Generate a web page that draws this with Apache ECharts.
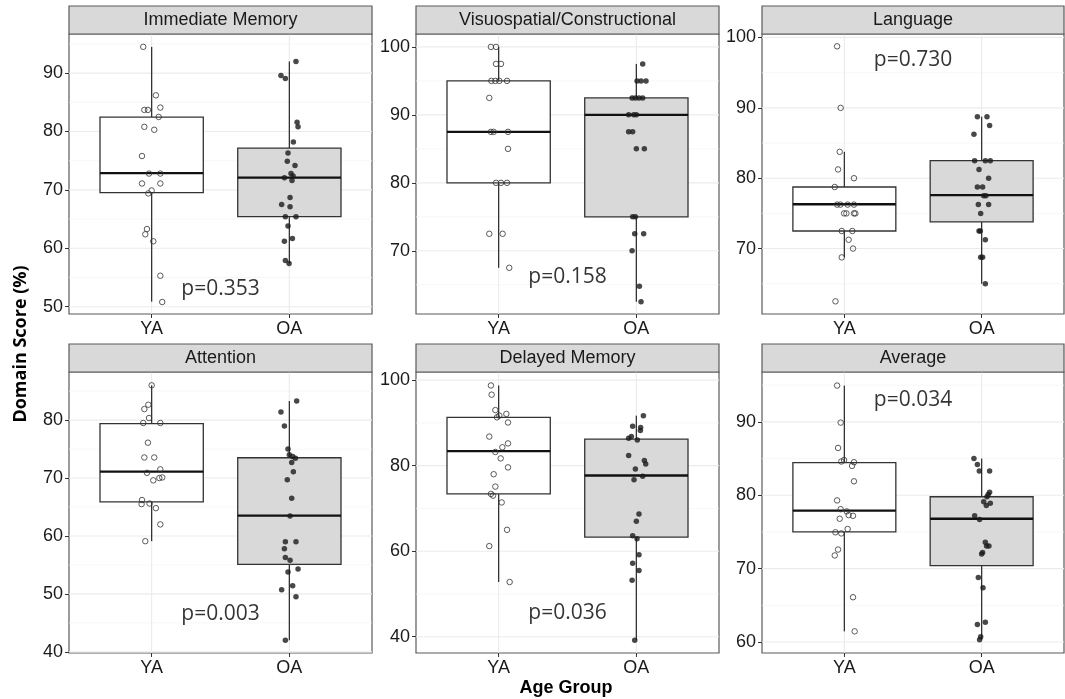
<!DOCTYPE html>
<html>
<head>
<meta charset="utf-8">
<script src="https://cdn.jsdelivr.net/npm/echarts@6/dist/echarts.min.js"></script>
<style>html,body{margin:0;padding:0;background:#fff;}#chart{width:1065px;height:699px;}</style>
</head>
<body>
<div id="chart"></div>
<script>
// ---------------- DATA ----------------
const groups = ['YA', 'OA'];
const domains = ['Immediate Memory', 'Visuospatial/Constructional', 'Language', 'Attention', 'Delayed Memory', 'Average'];
const pLabels = ['p=0.353', 'p=0.158', 'p=0.730', 'p=0.003', 'p=0.036', 'p=0.034'];
const pLabelScore = [53.0, 66.2, 96.8, 46.6, 45.5, 93.0];
const yAxisMin = [48.75, 60.7, 60.7, 39.8, 36.2, 58.5];
const yAxisMax = [96.7, 101.9, 100.5, 88.3, 101.9, 96.8];
const yTickLabels = [[50, 60, 70, 80, 90], [70, 80, 90, 100], [70, 80, 90, 100], [40, 50, 60, 70, 80], [40, 60, 80, 100], [60, 70, 80, 90]];

// box stats: [lower whisker, Q1, median, Q3, upper whisker]
const boxYA = [
  [50.86, 69.55, 72.86, 82.46, 94.5],
  [67.5, 80.0, 87.5, 95.0, 100.0],
  [68.75, 72.5, 76.3, 78.75, 83.75],
  [59.1, 65.9, 71.1, 79.4, 86.0],
  [52.8, 73.4, 83.4, 91.3, 98.75],
  [61.45, 75.0, 77.9, 84.45, 94.95]
];
const boxOA = [
  [57.4, 65.43, 72.1, 77.14, 92.0],
  [62.5, 75.0, 90.0, 92.5, 97.5],
  [65.0, 73.8, 77.6, 82.5, 88.75],
  [42.0, 55.1, 63.5, 73.5, 83.3],
  [39.2, 63.3, 77.7, 86.2, 91.7],
  [60.3, 70.4, 76.8, 79.8, 85.0]
];

// individual scores and their horizontal jitter (in group units)
const immediateYA = [94.5, 86.2, 83.7, 83.7, 84.1, 82.5, 80.8, 80.3, 75.8, 72.8, 72.8, 71.1, 71.1, 69.9, 69.4, 63.3, 62.4, 61.2, 55.3, 50.8];
const immediateYAJitter = [-0.061, 0.031, -0.053, -0.027, 0.063, 0.051, -0.053, 0.019, -0.070, -0.019, 0.063, -0.070, 0.063, 0.0, -0.024, -0.034, -0.046, 0.012, 0.063, 0.077];
const immediateOA = [92.0, 89.6, 89.1, 81.6, 80.8, 78.2, 76.3, 74.9, 74.2, 72.8, 72.4, 71.6, 72.1, 68.7, 67.5, 67.1, 65.4, 65.4, 63.8, 61.7, 61.2, 57.9, 57.4];
const immediateOAJitter = [0.048, -0.061, -0.029, 0.056, 0.063, 0.029, -0.010, -0.015, 0.041, 0.012, 0.027, 0.019, -0.036, 0.005, -0.056, 0.005, -0.029, 0.048, -0.010, 0.022, -0.036, -0.029, -0.002];

const visuoYA = [100, 100, 97.5, 97.5, 95, 95, 95, 95, 92.5, 87.5, 87.5, 87.5, 85, 80, 80, 80, 72.5, 72.5, 67.5];
const visuoYAJitter = [-0.056, -0.019, -0.019, 0.017, -0.053, -0.024, 0.005, 0.061, -0.068, -0.056, -0.036, 0.068, 0.068, -0.019, 0.017, 0.061, -0.068, 0.029, 0.077];
const visuoOA = [97.5, 95, 95, 95, 92.5, 92.5, 92.5, 92.5, 90, 90, 90, 87.5, 87.5, 85, 85, 75, 75, 72.5, 72.5, 70, 64.8, 62.5];
const visuoOAJitter = [0.046, 0.005, 0.034, 0.070, -0.031, -0.007, 0.019, 0.046, -0.056, -0.019, 0.0, -0.056, -0.027, 0.0, 0.058, -0.027, -0.007, -0.012, 0.053, -0.031, 0.022, 0.034];

const languageYA = [98.75, 90.0, 83.75, 81.25, 80.0, 78.75, 76.25, 76.25, 76.25, 76.25, 75, 75, 75, 75, 72.5, 72.5, 71.25, 70, 68.75, 62.5];
const languageYAJitter = [-0.053, -0.027, -0.034, -0.046, 0.070, -0.070, -0.053, -0.029, 0.024, 0.070, -0.002, 0.015, 0.070, 0.080, -0.019, 0.058, 0.031, 0.063, -0.019, -0.065];
const languageOA = [88.75, 88.75, 87.5, 86.25, 82.5, 82.5, 82.5, 81.25, 80, 78.75, 78.75, 77.5, 77.5, 76.25, 76.25, 75, 72.5, 72.5, 71.25, 68.75, 68.75, 65];
const languageOAJitter = [-0.031, 0.039, 0.058, -0.056, -0.051, 0.027, 0.063, -0.019, 0.051, -0.031, 0.007, 0.015, 0.031, -0.024, 0.051, -0.007, -0.019, -0.010, 0.027, -0.007, 0.007, 0.027];

const attentionYA = [86.0, 82.65, 81.9, 80.35, 79.5, 79.5, 76.1, 73.55, 73.55, 71.5, 70.9, 70.1, 70.0, 69.6, 66.2, 65.5, 65.6, 64.8, 62.0, 59.1];
const attentionYAJitter = [0.0, -0.024, -0.053, -0.019, -0.061, 0.063, -0.027, -0.053, 0.019, 0.063, -0.034, 0.077, 0.056, 0.012, -0.070, -0.073, -0.015, 0.031, 0.063, -0.046];
const attentionOA = [83.3, 81.4, 79.0, 75.0, 74.0, 73.7, 73.4, 72.7, 71.1, 69.7, 66.5, 63.45, 59.0, 59.0, 57.8, 56.3, 55.8, 54.3, 53.8, 51.4, 50.7, 49.5, 42.0];
const attentionOAJitter = [0.053, -0.061, -0.036, -0.010, 0.0, 0.024, 0.044, 0.017, 0.029, -0.015, 0.017, 0.005, -0.029, 0.048, -0.036, -0.029, 0.005, 0.063, -0.010, 0.024, -0.056, 0.048, -0.029];

const delayedYA = [98.75, 96.6, 93.0, 92.1, 91.3, 91.7, 90.1, 86.8, 85.2, 84.3, 83.2, 81.7, 79.6, 78.0, 75.1, 73.4, 73.0, 71.4, 65.0, 61.2, 52.8];
const delayedYAJitter = [-0.056, -0.051, -0.024, 0.056, -0.012, 0.005, 0.068, -0.068, 0.068, 0.027, -0.024, 0.015, 0.068, -0.036, -0.024, -0.056, -0.041, 0.022, 0.061, -0.068, 0.080];
const delayedOA = [91.7, 89.2, 88.9, 88.2, 86.4, 86.8, 86.0, 82.4, 81.2, 80.4, 79.2, 77.5, 76.7, 68.7, 67.0, 63.6, 62.9, 59.2, 57.2, 55.5, 53.2, 39.2];
const delayedOAJitter = [0.051, -0.027, 0.031, 0.029, -0.056, -0.036, 0.007, -0.056, 0.058, 0.068, -0.007, 0.046, -0.017, 0.019, 0.0, -0.027, 0.005, 0.019, -0.027, 0.019, -0.031, -0.012];

const averageYA = [94.95, 89.9, 86.45, 84.6, 84.8, 84.5, 84.0, 81.9, 79.3, 78.1, 77.8, 77.3, 77.2, 76.8, 75.4, 74.95, 74.8, 72.6, 71.8, 66.1, 61.45];
const averageYAJitter = [-0.053, -0.027, -0.046, -0.022, -0.002, 0.070, 0.056, 0.070, -0.053, -0.027, 0.017, 0.031, 0.063, -0.034, 0.024, -0.065, -0.022, -0.046, -0.070, 0.063, 0.075];
const averageOA = [85.0, 84.2, 83.3, 83.3, 80.4, 80.1, 79.8, 79.1, 78.6, 78.9, 77.2, 76.7, 73.6, 73.1, 73.1, 72.2, 72.0, 68.8, 67.4, 62.7, 62.4, 60.7, 60.3];
const averageOAJitter = [-0.056, -0.031, -0.017, 0.058, 0.058, 0.048, 0.039, 0.015, 0.034, 0.063, -0.051, -0.015, 0.027, 0.036, 0.053, 0.007, 0.0, -0.024, 0.010, 0.027, -0.031, -0.007, -0.015];

const scoresYA = [immediateYA, visuoYA, languageYA, attentionYA, delayedYA, averageYA];
const jitterYA = [immediateYAJitter, visuoYAJitter, languageYAJitter, attentionYAJitter, delayedYAJitter, averageYAJitter];
const scoresOA = [immediateOA, visuoOA, languageOA, attentionOA, delayedOA, averageOA];
const jitterOA = [immediateOAJitter, visuoOAJitter, languageOAJitter, attentionOAJitter, delayedOAJitter, averageOAJitter];

// ---------------- LAYOUT / STYLE ----------------
const colLeft = [69, 416, 762];
const colWidth = [303, 303, 302];
const rowTop = [34, 372];
const rowHeight = [280, 281];
const stripH = 28;
const borderColor = '#5a5a5a';
const textColor = '#1a1a1a';
const labelFont = 'Liberation Sans, Arial, sans-serif';

const chart = echarts.init(document.getElementById('chart'));
const grids = [], xAxes = [], yAxes = [], series = [], graphics = [];

for (let i = 0; i < 6; i++) {
  const c = i % 3, r = Math.floor(i / 3);
  const L = colLeft[c], T = rowTop[r], W = colWidth[c], H = rowHeight[r];
  grids.push({left: L, top: T, width: W, height: H, show: true, backgroundColor: '#fff',
    borderColor: borderColor, borderWidth: 1.2, containLabel: false});
  xAxes.push({
    gridIndex: i, type: 'value', min: 0.4, max: 2.6,
    axisLine: {show: false}, splitLine: {show: false},
    axisTick: {show: true, customValues: [1, 2], length: 4, lineStyle: {color: '#333', width: 1}},
    axisLabel: {customValues: [1, 2], formatter: v => groups[Math.round(v) - 1] || '',
      fontSize: 18, color: textColor, margin: 6, fontFamily: labelFont}
  });
  const ticks = yTickLabels[i];
  yAxes.push({
    gridIndex: i, type: 'value', min: yAxisMin[i], max: yAxisMax[i],
    axisLine: {show: false}, splitLine: {show: false},
    axisTick: {show: true, customValues: ticks, length: 4, lineStyle: {color: '#333', width: 1}},
    axisLabel: {customValues: ticks, fontSize: 18, color: textColor, margin: 6, fontFamily: labelFont}
  });

  // grid lines (major at ticks, minor halfway), vertical at group positions
  const step = ticks[1] - ticks[0];
  const gridData = [];
  ticks.forEach(t => gridData.push([1, t, 0, 1]));
  const minors = [ticks[0] - step / 2].concat(ticks.map(t => t + step / 2));
  minors.forEach(m => { if (m > yAxisMin[i] && m < yAxisMax[i]) gridData.push([1, m, 0, 0]); });
  gridData.push([1, yAxisMin[i], 1, 1], [2, yAxisMin[i], 1, 1]);
  series.push({
    type: 'custom', xAxisIndex: i, yAxisIndex: i, z: 1, silent: true, animation: false,
    data: gridData,
    renderItem: (params, api) => {
      const cs = params.coordSys;
      const major = api.value(3) === 1;
      const style = {stroke: major ? '#ebebeb' : '#f3f3f3', lineWidth: major ? 1.1 : 0.7};
      if (api.value(2) === 0) {
        const y = api.coord([1, api.value(1)])[1];
        return {type: 'line', shape: {x1: cs.x, y1: y, x2: cs.x + cs.width, y2: y}, style};
      }
      const x = api.coord([api.value(0), yAxisMin[i]])[0];
      return {type: 'line', shape: {x1: x, y1: cs.y, x2: x, y2: cs.y + cs.height}, style};
    }
  });

  // boxes
  series.push({
    type: 'custom', xAxisIndex: i, yAxisIndex: i, z: 2, silent: true, animation: false,
    data: [[1].concat(boxYA[i], [0]), [2].concat(boxOA[i], [1])],
    renderItem: (params, api) => {
      const x = api.value(0);
      const lo = api.coord([x, api.value(1)]);
      const q1 = api.coord([x, api.value(2)]);
      const md = api.coord([x, api.value(3)]);
      const q3 = api.coord([x, api.value(4)]);
      const hi = api.coord([x, api.value(5)]);
      const w = api.size([0.75, 0])[0];
      const fill = api.value(6) === 0 ? '#ffffff' : '#d9d9d9';
      const ls = {stroke: '#333', lineWidth: 1.3};
      return {type: 'group', children: [
        {type: 'line', shape: {x1: lo[0], y1: lo[1], x2: q1[0], y2: q1[1]}, style: ls},
        {type: 'line', shape: {x1: q3[0], y1: q3[1], x2: hi[0], y2: hi[1]}, style: ls},
        {type: 'rect', shape: {x: md[0] - w / 2, y: q3[1], width: w, height: q1[1] - q3[1]},
          style: {fill: fill, stroke: '#333', lineWidth: 1.3}},
        {type: 'line', shape: {x1: md[0] - w / 2, y1: md[1], x2: md[0] + w / 2, y2: md[1]},
          style: {stroke: '#111', lineWidth: 2.3}}
      ]};
    }
  });

  // points
  series.push({
    type: 'scatter', xAxisIndex: i, yAxisIndex: i, z: 3, silent: true, animation: false,
    symbol: 'circle', symbolSize: 5.5,
    itemStyle: {color: 'rgba(255,255,255,0)', borderColor: '#333', borderWidth: 1},
    data: scoresYA[i].map((v, k) => [1 + jitterYA[i][k], v])
  });
  series.push({
    type: 'scatter', xAxisIndex: i, yAxisIndex: i, z: 3, silent: true, animation: false,
    symbol: 'circle', symbolSize: 5.5,
    itemStyle: {color: '#1a1a1a'},
    data: scoresOA[i].map((v, k) => [2 + jitterOA[i][k], v])
  });

  // p-value annotation
  series.push({
    type: 'scatter', xAxisIndex: i, yAxisIndex: i, z: 4, silent: true, animation: false,
    symbolSize: 1, itemStyle: {color: 'rgba(0,0,0,0)'},
    data: [[1.5, pLabelScore[i]]],
    label: {show: true, position: 'inside', formatter: () => pLabels[i],
      fontSize: 21, color: '#000', textBorderWidth: 0, fontFamily: 'Open Sans, sans-serif'}
  });

  // strip
  graphics.push({type: 'rect', z: 10, shape: {x: L, y: T - stripH, width: W, height: stripH},
    style: {fill: '#d9d9d9', stroke: borderColor, lineWidth: 1.2}});
  graphics.push({type: 'text', z: 11, x: L + W / 2, y: T - stripH / 2,
    style: {text: domains[i], textAlign: 'center', textVerticalAlign: 'middle',
      font: '18px "Liberation Sans", Arial, sans-serif', fill: textColor}});
}

graphics.push({type: 'text', x: 21, y: 344, rotation: Math.PI / 2,
  style: {text: 'Domain Score (%)', textAlign: 'center', textVerticalAlign: 'middle',
    font: 'bold 18px "Open Sans", sans-serif', fill: '#000'}});
graphics.push({type: 'text', x: 566, y: 688,
  style: {text: 'Age Group', textAlign: 'center', textVerticalAlign: 'middle',
    font: 'bold 18px "Liberation Sans", Arial, sans-serif', fill: '#000'}});

chart.setOption({
  animation: false,
  backgroundColor: '#fff',
  grid: grids, xAxis: xAxes, yAxis: yAxes, series: series, graphic: graphics
});
</script>
</body>
</html>
